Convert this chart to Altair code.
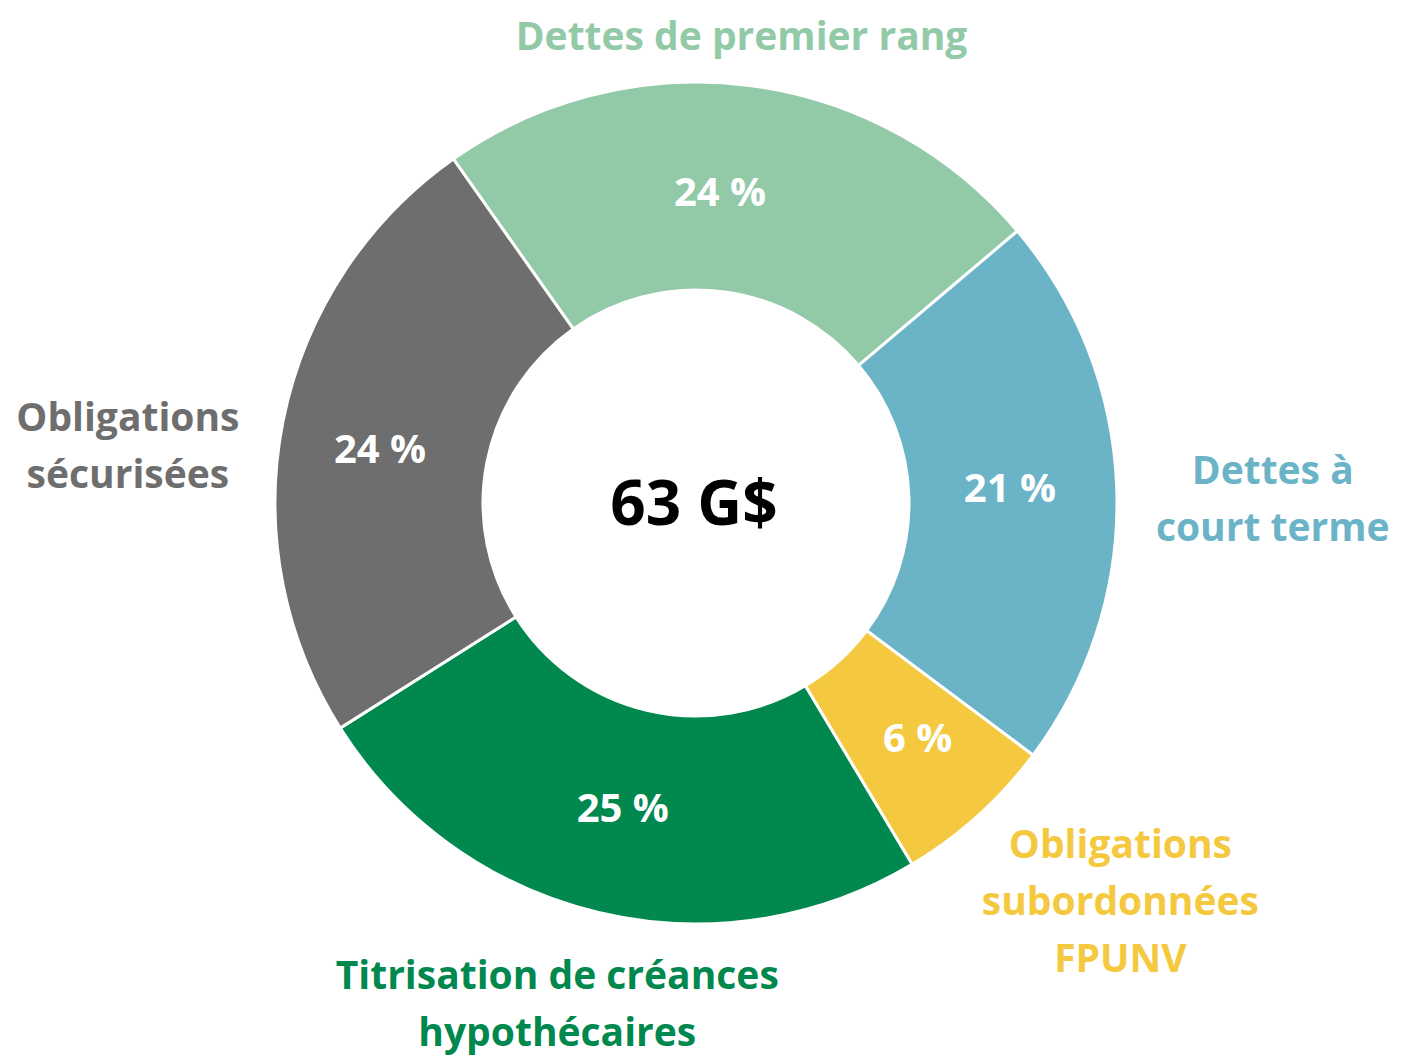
import altair as alt
import pandas as pd
import math

# ---- data ----
categories = ["Dettes de premier rang", "Dettes à court terme", "Obligations subordonnées FPUNV",
              "Titrisation de créances hypothécaires", "Obligations sécurisées"]
label_lines = [["Dettes de premier rang"], ["Dettes à", "court terme"],
               ["Obligations", "subordonnées", "FPUNV"],
               ["Titrisation de créances", "hypothécaires"], ["Obligations", "sécurisées"]]
values = [23.6, 21.4, 6.2, 24.6, 24.2]
pct_labels = ["24 %", "21 %", "6 %", "25 %", "24 %"]
colors = ["#92CAA8", "#6BB4C7", "#F5C93F", "#00884E", "#6E6E6E"]
center_label = "63 G$"

# ---- layout ----
W, H = 1376, 970
FONT = "Open Sans"
LH = 57
start = math.radians(324.8)
theta_scale = alt.Scale(domain=[0, sum(values)], range=[start, start + 2 * math.pi])
# outer label placement: (radius, dx, dy) per category (dy for block centre)
outer_pos = [(470, -14, 1), (581, -4, 15), (583, 34, -33), (521, -18, -4), (568, -11, 55)]
pct_nudge = [(-16, 4), (-2, -4), (10, 2), (0, 0), (-6, 10)]

df = pd.DataFrame({"cat": categories, "value": values, "pct": pct_labels, "order": range(len(values))})
cum = df["value"].cumsum()
df["start"] = cum - df["value"]
df["end"] = cum
df["mid"] = (df["start"] + df["end"]) / 2
df["lines"] = label_lines

color_scale = alt.Scale(domain=categories, range=colors)

base = alt.Chart(df)

arcs = base.mark_arc(innerRadius=213, outerRadius=421, stroke="white", strokeWidth=3).encode(
    theta=alt.Theta("start:Q", scale=theta_scale),
    theta2="end:Q",
    color=alt.Color("cat:N", scale=color_scale, legend=None),
)

layers = [arcs]
for i, (dx, dy) in enumerate(pct_nudge):
    layers.append(
        base.transform_filter(alt.datum.order == i).mark_text(
            radius=316, dx=dx, dy=dy, font=FONT, fontWeight="bold", fontSize=40, color="white"
        ).encode(
            theta=alt.Theta("mid:Q", scale=theta_scale),
            text="pct:N",
        )
    )

for i, (r, dx, dy) in enumerate(outer_pos):
    n = len(label_lines[i])
    layers.append(
        base.transform_filter(alt.datum.order == i).mark_text(
            radius=r, dx=dx, dy=dy - (n - 1) * LH / 2, font=FONT, fontWeight="bold", fontSize=39,
            color=colors[i], lineHeight=LH, align="center", baseline="middle",
        ).encode(
            theta=alt.Theta("mid:Q", scale=theta_scale),
            text="lines",
        )
    )

center = alt.Chart(pd.DataFrame({"t": [center_label]})).mark_text(
    font=FONT, fontWeight="bold", fontSize=62, color="black"
).encode(x=alt.value(W / 2 - 2), y=alt.value(H / 2 + 3), text="t:N")
layers.append(center)

chart = alt.layer(*layers).properties(
    width=W, height=H,
    autosize=alt.AutoSizeParams(type="none"),
    padding={"left": 0, "top": 10, "right": 9, "bottom": 71},
).configure_view(stroke=None)

chart.save("out.html", embed_options={"renderer": "svg", "actions": False})
